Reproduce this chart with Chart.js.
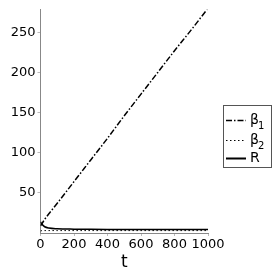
<!DOCTYPE html>
<html>
<head>
<meta charset="utf-8">
<script src="https://cdn.jsdelivr.net/npm/chart.js@4.4.0/dist/chart.umd.min.js"></script>
<style>
  html, body { margin: 0; padding: 0; background: #fff; }
  #wrap { width: 273px; height: 273px; }
</style>
</head>
<body>
<div id="wrap"><canvas id="c" width="273" height="273"></canvas></div>
<script>
// time samples
const tValues = [0, 10, 25, 50, 100, 200, 300, 400, 500, 600, 700, 800, 900, 1000];

// series
const beta1 = [9, 12, 17, 24, 37, 64, 91, 118, 146, 173, 200, 227, 253, 280];
const beta2 = [2.5, 3, 3, 3, 3, 3, 3, 3, 3, 3, 3, 3, 3, 3];
const rValues = [14, 10.5, 7.8, 6.2, 5.3, 4.8, 4.6, 4.5, 4.5, 4.5, 4.5, 4.5, 4.5, 4.5];

const seriesNames = ['β', 'β', 'R'];
const seriesSubs = ['1', '2', ''];
const seriesDash = [[6, 2, 1.5, 2], [1.5, 2.5], []];
const seriesWidth = [1.5, 1, 1.5];

const yTicks = [50, 100, 150, 200, 250];
const xTicks = [0, 200, 400, 600, 800, 1000];

const FONT = '"DejaVu Sans", sans-serif';

function toPoints(vals) {
    return tValues.map((t, i) => ({ x: t, y: vals[i] }));
}

const allSeries = [beta1, beta2, rValues];

// Draw a boxed legend on the right
const boxLegend = {
    id: 'boxLegend',
    afterDraw(chart) {
        const ctx = chart.ctx;
        const x0 = 223, y0 = 105, w = 48, h = 62;
        ctx.save();
        ctx.strokeStyle = '#555';
        ctx.lineWidth = 1;
        ctx.strokeRect(x0 + 0.5, y0 + 0.5, w, h);
        const rows = [120, 140, 158];
        chart.data.datasets.forEach((ds, i) => {
            const y = rows[i];
            ctx.strokeStyle = '#000';
            ctx.lineWidth = i === 2 ? 2 : seriesWidth[i];
            ctx.setLineDash(seriesDash[i]);
            ctx.beginPath();
            ctx.moveTo(226, y + 0.5);
            ctx.lineTo(246, y + 0.5);
            ctx.stroke();
            ctx.setLineDash([]);
            ctx.fillStyle = '#000';
            ctx.textBaseline = 'middle';
            ctx.textAlign = 'left';
            ctx.font = '14px ' + FONT;
            ctx.fillText(seriesNames[i], 250, y);
            if (seriesSubs[i]) {
                ctx.font = '10px ' + FONT;
                ctx.fillText(seriesSubs[i], 258, y + 6);
            }
        });
        ctx.restore();
    }
};

new Chart(document.getElementById('c'), {
    type: 'line',
    data: {
        datasets: allSeries.map((vals, i) => ({
            label: seriesNames[i] + seriesSubs[i],
            data: toPoints(vals),
            borderColor: '#000',
            borderWidth: seriesWidth[i],
            borderDash: seriesDash[i],
            pointRadius: 0,
            cubicInterpolationMode: 'monotone',
            fill: false
        }))
    },
    options: {
        responsive: false,
        animation: false,
        layout: { padding: { left: 0, right: 65, top: 5, bottom: 0 } },
        plugins: {
            legend: { display: false },
            tooltip: { enabled: false }
        },
        scales: {
            x: {
                type: 'linear',
                min: 0,
                max: 1000,
                afterBuildTicks: s => { s.ticks = xTicks.map(v => ({ value: v })); },
                afterFit: s => { s.height = 40; },
                border: { color: '#888', width: 1 },
                grid: { drawOnChartArea: false, tickLength: 3, color: '#bbb' },
                ticks: {
                    color: '#000', font: { family: FONT, size: 13 }, padding: 1,
                    maxRotation: 0, autoSkip: false, callback: v => String(v)
                },
                title: { display: true, text: 't', color: '#000', font: { family: FONT, size: 17 }, padding: 0 }
            },
            y: {
                type: 'linear',
                min: 0,
                max: 278,
                afterBuildTicks: s => { s.ticks = yTicks.map(v => ({ value: v })); },
                afterFit: s => { s.width = 40.5; },
                border: { color: '#888', width: 1 },
                grid: { drawOnChartArea: false, tickLength: 3, color: '#bbb' },
                ticks: { color: '#000', font: { family: FONT, size: 13 }, padding: 2, autoSkip: false, callback: v => String(v) }
            }
        }
    },
    plugins: [boxLegend]
});
</script>
</body>
</html>
